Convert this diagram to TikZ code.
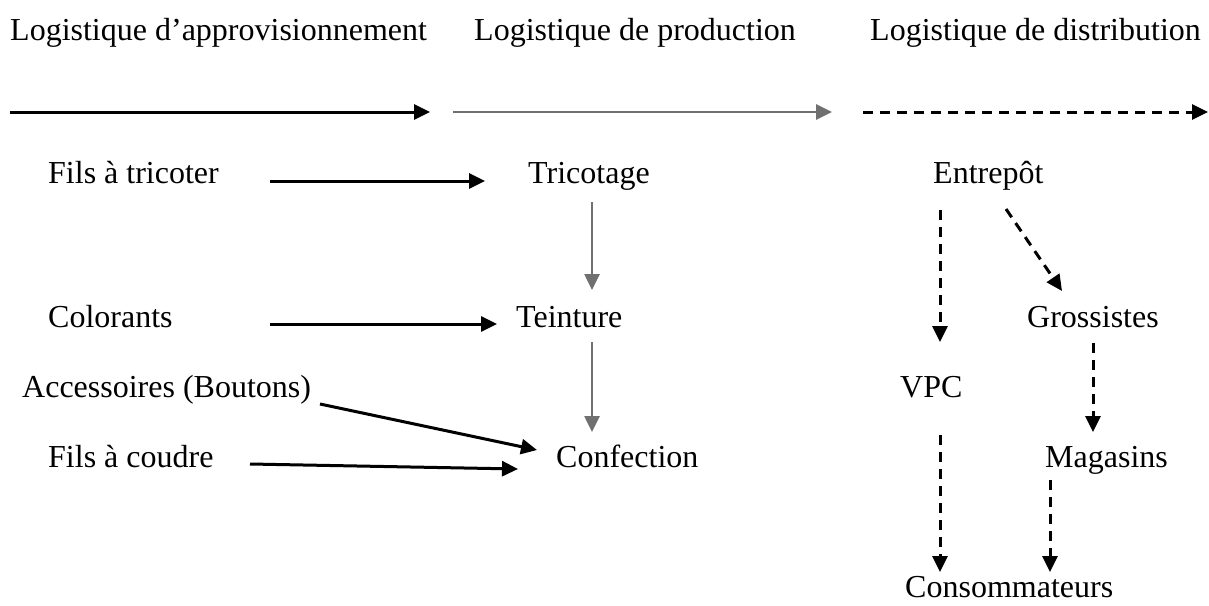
\documentclass[tikz,border=0pt]{standalone}
\usepackage{fontspec}
\setmainfont{Liberation Serif}
\usetikzlibrary{arrows.meta}
\definecolor{midgray}{RGB}{112,112,112}
\tikzset{
  lbl/.style={inner sep=0pt, anchor=base west, font=\fontsize{32}{38}\selectfont},
  blk/.style={-{Triangle[length=16pt,width=15pt]}, draw=black, line width=3pt},
  gry/.style={-{Triangle[length=16pt,width=15pt,fill=midgray]}, draw=midgray, line width=2.6pt},
  dsh/.style={-{Triangle[length=16pt,width=15pt]}, draw=black, line width=3pt, dash pattern=on 10pt off 7pt}
}
\begin{document}
\begin{tikzpicture}[x=1pt,y=-1pt]
\path[use as bounding box] (0,0) rectangle (1209,605);

% column headings
\node[lbl] (h1) at (10,40) {Logistique d’approvisionnement};
\node[lbl] (h2) at (474,40) {Logistique de production};
\node[lbl] (h3) at (870,40) {Logistique de distribution};

% flow bars under the headings
\coordinate (b1s) at (10,112);  \coordinate (b1e) at (430,112);
\coordinate (b2s) at (453,112); \coordinate (b2e) at (832,112);
\coordinate (b3s) at (863,112); \coordinate (b3e) at (1208,112);
\draw[blk] (b1s) -- (b1e);
\draw[gry] (b2s) -- (b2e);
\draw[dsh] (b3s) -- (b3e);

% supplies
\node[lbl] (fils1) at (48,183) {Fils à tricoter};
\node[lbl] (color) at (48,327) {Colorants};
\node[lbl] (acc)   at (22,397) {Accessoires (Boutons)};
\node[lbl] (fils2) at (48,467) {Fils à coudre};

% production steps
\node[lbl] (tric)  at (528,183) {Tricotage};
\node[lbl] (teint) at (516,327) {Teinture};
\node[lbl] (conf)  at (556,467) {Confection};

% distribution
\node[lbl] (entre) at (933,183) {Entrepôt};
\node[lbl] (gross) at (1027,327) {Grossistes};
\node[lbl] (vpc)   at (900,397) {VPC};
\node[lbl] (mag)   at (1045,467) {Magasins};
\node[lbl] (cons)  at (905,597) {Consommateurs};

% supply arrows
\draw[blk] ([shift={(222pt,2pt)}]fils1.base west) -- ([shift={(-43pt,2pt)}]tric.base west);
\draw[blk] ([shift={(222pt,3pt)}]color.base west) -- ([shift={(-19pt,3pt)}]teint.base west);
\draw[blk] ([shift={(298pt,-7pt)}]acc.base west) -- ([shift={(-19pt,17pt)}]conf.base west);
\draw[blk] ([shift={(202pt,3pt)}]fils2.base west) -- ([shift={(-38pt,-2pt)}]conf.base west);

% production chain
\draw[gry] ([shift={(64pt,-19pt)}]tric.base west) -- ([shift={(76pt,37pt)}]teint.base west);
\draw[gry] ([shift={(76pt,-15pt)}]teint.base west) -- ([shift={(36pt,35pt)}]conf.base west);

% distribution chain
\draw[dsh] ([shift={(7pt,-27pt)}]entre.base west) -- ([shift={(40pt,55pt)}]vpc.base west);
\draw[dsh] ([shift={(73pt,-26pt)}]entre.base west) -- ([shift={(35pt,36pt)}]gross.base west);
\draw[dsh] ([shift={(66pt,-16pt)}]gross.base west) -- ([shift={(48pt,35pt)}]mag.base west);
\draw[dsh] ([shift={(40pt,-38pt)}]vpc.base west) -- ([shift={(35pt,25pt)}]cons.base west);
\draw[dsh] ([shift={(5pt,-13pt)}]mag.base west) -- ([shift={(145pt,25pt)}]cons.base west);
\end{tikzpicture}
\end{document}
